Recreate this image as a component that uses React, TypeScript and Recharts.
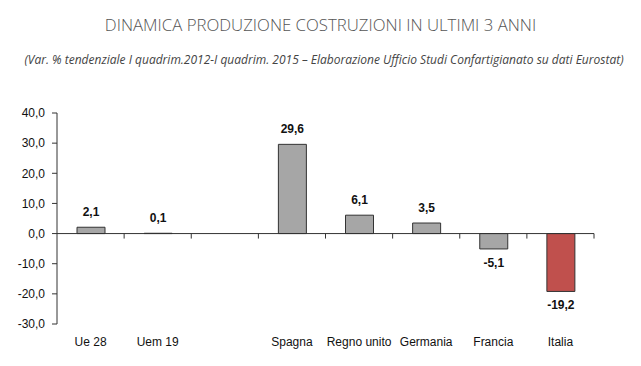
import React from 'react';
import { BarChart, Bar, XAxis, YAxis, ReferenceLine, LabelList, Cell } from 'recharts';

const categories = ['Ue 28', 'Uem 19', '', 'Spagna', 'Regno unito', 'Germania', 'Francia', 'Italia'];
const values: (number | null)[] = [2.1, 0.1, null, 29.6, 6.1, 3.5, -5.1, -19.2];
const yTicks = [-30, -20, -10, 0, 10, 20, 30, 40];
const highlight = 'Italia';

const title = 'DINAMICA PRODUZIONE COSTRUZIONI IN ULTIMI 3 ANNI';
const subtitle = '(Var. % tendenziale I quadrim.2012-I quadrim. 2015 \u2013 Elaborazione Ufficio Studi Confartigianato su dati Eurostat)';

const data = categories.map((name, i) => ({ name, value: values[i] }));

const fmt = (v: number) => v.toFixed(1).replace('.', ',');

const ZeroLine = (props: any) => {
  const { x1, y1, x2, y2 } = props;
  if (x1 == null) return null;
  const n = categories.length;
  const step = (x2 - x1) / n;
  const ticks = [];
  for (let k = 1; k <= n; k++) {
    const x = x1 + k * step;
    ticks.push(<line key={k} x1={x} x2={x} y1={y1} y2={y1 + 5} stroke="#333" strokeWidth={1} />);
  }
  return (
    <g>
      <line x1={x1} y1={y1} x2={x2} y2={y2} stroke="#333" strokeWidth={1} />
      {ticks}
    </g>
  );
};

const BarLabel = (props: any) => {
  const { x, y, width, height, value } = props;
  if (value == null) return null;
  const cx = x + width / 2;
  const neg = value < 0;
  const top = Math.min(y, y + height);
  const bottom = Math.max(y, y + height);
  const ty = neg ? bottom + 14 : top - 15;
  return (
    <text x={cx} y={ty} textAnchor="middle" dominantBaseline="central" fontFamily="Liberation Sans, Arial, sans-serif" fontSize={12} fontWeight="bold" fill="#111">
      {fmt(value)}
    </text>
  );
};

export default function App() {
  return (
    <div style={{ position: 'absolute', left: 0, top: 0, width: 641, height: 366, background: '#fff' }}>
      <div style={{ position: 'absolute', top: 13, left: 0, width: 641, textAlign: 'center', fontFamily: 'Open Sans, sans-serif', fontWeight: 300, fontSize: 16.8, color: '#555' }}>
        {title}
      </div>
      <div style={{ position: 'absolute', top: 51, left: 0, width: 648, textAlign: 'center', fontFamily: 'Open Sans, sans-serif', fontStyle: 'italic', fontSize: 12, color: '#444' }}>
        {subtitle}
      </div>
      <div style={{ position: 'absolute', left: 0, top: 0 }}>
        <BarChart width={641} height={366} data={data} margin={{ top: 113, right: 47, bottom: 12, left: 0 }} barCategoryGap={0}>
          <XAxis dataKey="name" axisLine={false} tickLine={false} height={30} interval={0} tickMargin={7}
            tick={{ fontFamily: 'Liberation Sans, Arial, sans-serif', fontSize: 12, fill: '#111' }} />
          <YAxis domain={[-30, 40]} ticks={yTicks} width={57} tickFormatter={fmt} interval={0}
            axisLine={{ stroke: '#333' }} tickLine={{ stroke: '#333' }} tickSize={5} tickMargin={7}
            tick={{ fontFamily: 'Liberation Sans, Arial, sans-serif', fontSize: 12, fill: '#111' }} />
          <ReferenceLine y={0} shape={ZeroLine} />
          <Bar dataKey="value" barSize={28} stroke="#333" strokeWidth={1} isAnimationActive={false}>
            {data.map((d, i) => (
              <Cell key={i} fill={d.name === highlight ? '#c0504d' : '#a6a6a6'} />
            ))}
            <LabelList dataKey="value" content={BarLabel} />
          </Bar>
        </BarChart>
      </div>
    </div>
  );
}
